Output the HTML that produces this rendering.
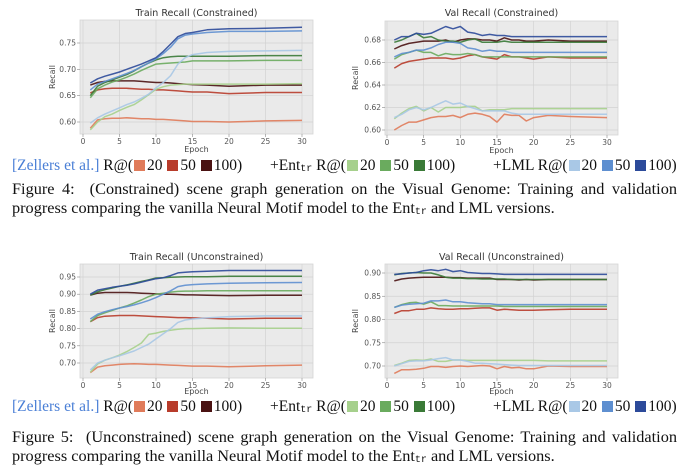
<!DOCTYPE html>
<html><head><meta charset="utf-8">
<style>
body{margin:0;background:#fff;width:689px;height:469px;overflow:hidden;position:relative;font-family:"Liberation Serif",serif}
svg{position:absolute;left:0;top:0}
.leg{position:absolute;font-size:15.5px;white-space:nowrap;line-height:16px;color:#111}
.sq{display:inline-block;width:11px;height:11px;margin:0 2px 0 1px;vertical-align:-1px}
.cap{position:absolute;left:12px;width:665px;font-size:16.3px;line-height:18.5px;color:#111;white-space:nowrap}
.l1{text-align:justify;text-align-last:justify;white-space:normal}
sub{font-family:"Liberation Mono",monospace;font-size:10px;vertical-align:-1px}
a{color:#4a7fd6;text-decoration:none}
</style></head><body>
<svg id="chart" width="689" height="469"></svg>

<div class="leg" style="left:12px;top:158px"><a>[Zellers et al.]</a> R@(<span class="sq" style="background:#e07b5a"></span>20 <span class="sq" style="background:#b83c2b"></span>50 <span class="sq" style="background:#4a1212"></span>100)</div>
<div class="leg" style="left:270px;top:158px">+Ent<sub>tr</sub> R@(<span class="sq" style="background:#a6d08c"></span>20 <span class="sq" style="background:#6aab5e"></span>50 <span class="sq" style="background:#3a7a37"></span>100)</div>
<div class="leg" style="left:493px;top:158px">+LML R@(<span class="sq" style="background:#a9c8e6"></span>20 <span class="sq" style="background:#5e8fd0"></span>50 <span class="sq" style="background:#2c4a9a"></span>100)</div>
<div class="cap" style="top:180px"><div class="l1">Figure 4:&nbsp; (Constrained) scene graph generation on the Visual Genome: Training and validation</div><div>progress comparing the vanilla Neural Motif model to the Ent<sub>tr</sub> and LML versions.</div></div>

<div class="leg" style="left:12px;top:399px"><a>[Zellers et al.]</a> R@(<span class="sq" style="background:#e07b5a"></span>20 <span class="sq" style="background:#b83c2b"></span>50 <span class="sq" style="background:#4a1212"></span>100)</div>
<div class="leg" style="left:270px;top:399px">+Ent<sub>tr</sub> R@(<span class="sq" style="background:#a6d08c"></span>20 <span class="sq" style="background:#6aab5e"></span>50 <span class="sq" style="background:#3a7a37"></span>100)</div>
<div class="leg" style="left:493px;top:399px">+LML R@(<span class="sq" style="background:#a9c8e6"></span>20 <span class="sq" style="background:#5e8fd0"></span>50 <span class="sq" style="background:#2c4a9a"></span>100)</div>
<div class="cap" style="top:428px"><div class="l1">Figure 5:&nbsp; (Unconstrained) scene graph generation on the Visual Genome: Training and validation</div><div>progress comparing the vanilla Neural Motif model to the Ent<sub>tr</sub> and LML versions.</div></div>

<script>
const seriesNames=["z20","z50","z100","e20","e50","e100","l20","l50","l100"];
const seriesColors=["#e07b5a","#b83c2b","#4a1212","#a6d08c","#6aab5e","#3a7a37","#a9c8e6","#5e8fd0","#2c4a9a"];
const trainEpochs=[1,2,3,4,5,6,7,8,9,10,11,12,13,14,15,17,20,25,30];
const valEpochs=[1,2,3,4,5,6,7,8,9,10,11,12,13,14,15,16,17,18,19,20,22,25,30];
const xTicks=[0,5,10,15,20,25,30];

const tc={
z20:[.588,.604,.606,.607,.607,.608,.607,.606,.606,.605,.605,.604,.603,.602,.601,.601,.600,.602,.603],
z50:[.655,.661,.663,.664,.664,.664,.663,.662,.662,.661,.661,.660,.659,.658,.657,.657,.654,.656,.656],
z100:[.670,.675,.677,.678,.678,.678,.678,.677,.676,.675,.675,.674,.673,.672,.671,.670,.668,.670,.670],
e20:[.585,.600,.610,.615,.622,.628,.633,.642,.652,.662,.667,.670,.671,.672,.672,.672,.672,.672,.673],
e50:[.646,.663,.670,.676,.680,.685,.691,.698,.704,.710,.711,.712,.713,.714,.716,.716,.716,.717,.717],
e100:[.650,.668,.675,.680,.685,.690,.697,.705,.712,.718,.722,.724,.725,.725,.725,.725,.725,.726,.726],
l20:[.598,.608,.615,.621,.627,.633,.638,.645,.653,.665,.675,.688,.710,.722,.728,.732,.734,.735,.736],
l50:[.661,.672,.677,.682,.687,.692,.698,.705,.712,.720,.730,.742,.758,.765,.767,.770,.772,.772,.773],
l100:[.674,.682,.687,.691,.695,.700,.705,.710,.716,.722,.734,.748,.762,.768,.770,.775,.777,.778,.780]};
const vc={
z20:[.600,.604,.607,.607,.609,.611,.612,.612,.613,.611,.614,.615,.614,.612,.607,.614,.613,.613,.608,.611,.613,.612,.611],
z50:[.655,.659,.661,.662,.663,.664,.664,.664,.663,.664,.666,.667,.665,.664,.663,.667,.665,.665,.664,.663,.665,.664,.664],
z100:[.672,.675,.677,.678,.679,.679,.679,.680,.678,.680,.681,.681,.680,.680,.679,.682,.680,.680,.679,.679,.680,.679,.679],
e20:[.610,.615,.619,.621,.617,.620,.616,.620,.620,.620,.621,.621,.617,.618,.618,.618,.619,.619,.619,.619,.619,.619,.619],
e50:[.663,.667,.669,.671,.669,.669,.666,.668,.667,.667,.668,.667,.665,.665,.665,.665,.665,.665,.665,.665,.665,.665,.665],
e100:[.678,.680,.683,.686,.682,.683,.680,.679,.679,.678,.680,.681,.678,.678,.678,.679,.678,.678,.678,.678,.678,.678,.678],
l20:[.611,.614,.618,.620,.618,.620,.623,.626,.623,.624,.621,.619,.617,.617,.617,.617,.615,.614,.614,.614,.614,.614,.614],
l50:[.665,.668,.669,.671,.671,.673,.676,.678,.678,.677,.673,.672,.670,.671,.670,.670,.669,.669,.669,.669,.669,.669,.669],
l100:[.680,.683,.683,.686,.685,.686,.689,.692,.690,.692,.687,.686,.684,.685,.684,.684,.683,.683,.683,.683,.683,.683,.683]};
const tu={
z20:[.672,.688,.692,.694,.696,.697,.698,.697,.696,.696,.695,.694,.693,.692,.691,.691,.689,.692,.694],
z50:[.820,.832,.836,.837,.838,.838,.838,.837,.836,.835,.834,.833,.832,.832,.831,.830,.828,.830,.830],
z100:[.897,.903,.905,.905,.905,.905,.904,.903,.902,.901,.900,.900,.899,.898,.898,.897,.896,.897,.897],
e20:[.673,.697,.708,.715,.723,.733,.745,.758,.783,.787,.792,.795,.798,.800,.800,.801,.802,.801,.801],
e50:[.820,.838,.846,.853,.860,.866,.874,.883,.893,.900,.903,.906,.908,.909,.909,.910,.910,.910,.910],
e100:[.897,.907,.913,.918,.923,.927,.932,.937,.942,.947,.948,.949,.950,.951,.951,.951,.952,.952,.952],
l20:[.680,.700,.708,.715,.721,.728,.735,.745,.755,.770,.785,.800,.818,.825,.828,.831,.835,.837,.837],
l50:[.828,.842,.849,.855,.860,.864,.869,.875,.882,.890,.900,.910,.922,.926,.928,.930,.932,.933,.934],
l100:[.900,.912,.916,.920,.923,.926,.930,.935,.940,.945,.948,.954,.962,.964,.965,.967,.969,.969,.969]};
const vu={
z20:[.684,.692,.692,.693,.695,.699,.699,.697,.699,.700,.699,.700,.701,.700,.694,.699,.696,.697,.694,.694,.700,.699,.699],
z50:[.813,.819,.819,.822,.822,.825,.823,.822,.822,.823,.823,.824,.825,.825,.820,.822,.821,.820,.820,.820,.821,.822,.822],
z100:[.883,.887,.889,.890,.891,.891,.891,.891,.890,.890,.889,.889,.889,.889,.886,.886,.886,.885,.886,.885,.886,.886,.886],
e20:[.701,.706,.712,.713,.712,.715,.710,.710,.713,.713,.712,.712,.712,.712,.712,.712,.712,.712,.712,.712,.711,.711,.711],
e50:[.826,.832,.836,.837,.833,.838,.830,.830,.829,.829,.829,.829,.829,.829,.829,.828,.828,.828,.828,.828,.828,.828,.828],
e100:[.896,.899,.900,.901,.900,.900,.896,.891,.889,.889,.888,.888,.887,.887,.887,.887,.886,.886,.886,.886,.886,.886,.886],
l20:[.700,.705,.710,.711,.711,.713,.716,.718,.713,.713,.710,.706,.706,.705,.704,.703,.702,.701,.701,.701,.701,.701,.701],
l50:[.826,.831,.833,.834,.835,.840,.840,.842,.838,.838,.836,.835,.834,.834,.832,.832,.832,.832,.832,.832,.832,.832,.832],
l100:[.897,.898,.900,.901,.905,.907,.905,.908,.903,.905,.901,.900,.899,.899,.898,.897,.897,.897,.897,.897,.897,.897,.897]};
const ytTC=[0.60,0.65,0.70,0.75];
const ytVC=[0.60,0.62,0.64,0.66,0.68];
const ytTU=[0.70,0.75,0.80,0.85,0.90,0.95];
const ytVU=[0.70,0.75,0.80,0.85,0.90];

const NS="http://www.w3.org/2000/svg";
const svg=document.getElementById('chart');
function mk(tag,attrs,parent){const e=document.createElementNS(NS,tag);for(const k in attrs)e.setAttribute(k,attrs[k]);(parent||svg).appendChild(e);return e;}

const charts=[
 {name:"train-constrained",title:"Train Recall (Constrained)",L:80,R:313,T:20,B:134,x0:83,x30:302,ya:0.60,pa:122,yb:0.75,pb:43,ticks:ytTC,ep:trainEpochs,data:tc,titleY:16,epY:152,recX:55},
 {name:"val-constrained",title:"Val Recall (Constrained)",L:385,R:618,T:21,B:135,x0:387,x30:607,ya:0.60,pa:130,yb:0.68,pb:40,ticks:ytVC,ep:valEpochs,data:vc,titleY:16,epY:153,recX:358},
 {name:"train-unconstrained",title:"Train Recall (Unconstrained)",L:80,R:313,T:264,B:378,x0:83,x30:302,ya:0.70,pa:363,yb:0.95,pb:277,ticks:ytTU,ep:trainEpochs,data:tu,titleY:260,epY:394,recX:55},
 {name:"val-unconstrained",title:"Val Recall (Unconstrained)",L:385,R:618,T:264,B:378,x0:387,x30:607,ya:0.70,pa:366,yb:0.90,pb:273,ticks:ytVU,ep:valEpochs,data:vu,titleY:260,epY:394,recX:358}
];
charts.forEach(c=>{
 const g=mk('g',{});
 
 
 const xs=v=>c.x0+(v)*(c.x30-c.x0)/30;
 const ys=v=>c.pa+(v-c.ya)*(c.pb-c.pa)/(c.yb-c.ya);
 const bg=mk('rect',{x:c.L,y:c.T,width:c.R-c.L,height:c.B-c.T,fill:"#eaeaea",stroke:"#d4d4d4","stroke-width":0.8},g);
 
 
 xTicks.forEach(t=>{
  mk('line',{x1:xs(t),x2:xs(t),y1:c.T,y2:c.B,stroke:"#d2d2d2","stroke-width":0.7},g);
  mk('line',{x1:xs(t),x2:xs(t),y1:c.B,y2:c.B+3,stroke:"#888","stroke-width":0.6},g);
  const tx=mk('text',{x:xs(t),y:c.B+10,"font-size":7.5,"text-anchor":"middle",fill:"#555","font-family":"DejaVu Sans, sans-serif"},g);
  tx.textContent=t;
  
  
 });
 c.ticks.forEach(t=>{
  mk('line',{x1:c.L,x2:c.R,y1:ys(t),y2:ys(t),stroke:"#d2d2d2","stroke-width":0.7},g);
  mk('line',{x1:c.L-3,x2:c.L,y1:ys(t),y2:ys(t),stroke:"#888","stroke-width":0.6},g);
  const tx=mk('text',{x:c.L-4,y:ys(t)+2.5,"font-size":7.5,"text-anchor":"end",fill:"#555","font-family":"DejaVu Sans, sans-serif"},g);
  tx.textContent=t.toFixed(2);
  
  
 });
 seriesNames.forEach((s,i)=>{
  const pts=c.ep.map((e,j)=>xs(e).toFixed(1)+","+ys(c.data[s][j]).toFixed(1)).join(" ");
  const pl=mk('polyline',{points:pts,fill:"none",stroke:seriesColors[i],"stroke-width":1.5,"stroke-linejoin":"round","stroke-opacity":0.9},g);
  
  
 });
 const ti=mk('text',{x:(c.L+c.R)/2,y:c.titleY,"font-size":9.5,"text-anchor":"middle",fill:"#333","font-family":"DejaVu Sans, sans-serif"},g);
 ti.textContent=c.title;
 
 
 const xl=mk('text',{x:(c.L+c.R)/2,y:c.epY,"font-size":8,"text-anchor":"middle",fill:"#444","font-family":"DejaVu Sans, sans-serif"},g);
 xl.textContent="Epoch";
 
 
 const cy=(c.T+c.B)/2;
 const yl=mk('text',{x:c.recX,y:cy,"font-size":8,"text-anchor":"middle",fill:"#444","font-family":"DejaVu Sans, sans-serif",transform:`rotate(-90 ${c.recX} ${cy})`},g);
 yl.textContent="Recall";
 
 
});
</script>
</body></html>
